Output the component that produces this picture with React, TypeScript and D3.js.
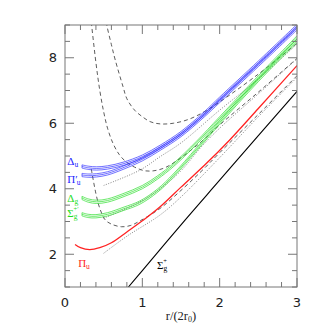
import React from 'react';
import * as d3 from 'd3';

type Pt = [number, number];

// lattice levels (centre of each band), r/(2r0) vs energy
const sigmaG: Pt[] = [[0.82, 1.0], [1.0, 1.5], [1.5, 2.9], [2.0, 4.26], [2.5, 5.62], [3.0, 6.97]];
const piU: Pt[] = [[0.13, 2.3], [0.2, 2.2], [0.32, 2.14], [0.45, 2.2], [0.6, 2.35], [0.8, 2.68], [1.0, 3.02], [1.23, 3.45], [1.5, 4.05], [1.81, 4.73], [2.13, 5.49], [2.5, 6.45], [3.0, 7.76]];
const sigmaGPrime: Pt[] = [[0.22, 3.22], [0.3, 3.17], [0.4, 3.16], [0.55, 3.22], [0.75, 3.38], [0.97, 3.58], [1.2, 3.95], [1.4, 4.4], [1.7, 5.2], [2.0, 6.02], [2.5, 7.32], [3.0, 8.52]];
const deltaG: Pt[] = [[0.22, 3.72], [0.3, 3.64], [0.41, 3.6], [0.55, 3.64], [0.75, 3.8], [1.0, 4.05], [1.2, 4.35], [1.4, 4.72], [1.7, 5.4], [2.0, 6.15], [2.5, 7.4], [3.0, 8.62]];
const piUPrime: Pt[] = [[0.22, 4.42], [0.3, 4.4], [0.41, 4.41], [0.55, 4.47], [0.75, 4.64], [1.0, 4.9], [1.23, 5.22], [1.5, 5.64], [1.8, 6.24], [2.0, 6.68], [2.5, 7.78], [3.0, 8.9]];
const deltaU: Pt[] = [[0.22, 4.68], [0.3, 4.64], [0.41, 4.62], [0.55, 4.65], [0.75, 4.76], [1.0, 4.98], [1.23, 5.28], [1.5, 5.7], [1.8, 6.3], [2.0, 6.75], [2.5, 7.85], [3.0, 8.97]];
const bandOffsets = [-0.05, 0, 0.05];

// string model curves
const dashed1: Pt[] = [[0.34, 4.6], [0.4, 3.85], [0.45, 3.4], [0.52, 3.05], [0.6, 2.92], [0.73, 2.84], [0.85, 2.88], [0.97, 3.02], [1.23, 3.4], [1.5, 3.95], [1.77, 4.55], [2.0, 5.1], [2.5, 6.27], [3.0, 7.45]];
const dashed2: Pt[] = [[0.33, 9.3], [0.4, 7.85], [0.45, 7.0], [0.5, 6.35], [0.55, 5.85], [0.62, 5.39], [0.7, 5.05], [0.8, 4.8], [0.9, 4.66], [1.03, 4.55], [1.15, 4.55], [1.3, 4.65], [1.5, 4.95], [1.77, 5.45], [2.0, 5.95], [2.5, 6.95], [3.0, 7.98]];
const dashed3: Pt[] = [[0.52, 9.3], [0.54, 9.0], [0.6, 8.4], [0.65, 7.93], [0.75, 7.12], [0.8, 6.75], [0.9, 6.4], [1.0, 6.2], [1.1, 6.05], [1.23, 5.98], [1.4, 6.0], [1.6, 6.12], [1.8, 6.35], [2.0, 6.65], [2.5, 7.5], [3.0, 8.44]];
const dotted1: Pt[] = [[0.5, 2.03], [0.8, 2.55], [1.23, 3.2], [1.5, 3.75], [2.0, 4.95], [2.5, 6.2], [3.0, 7.4]];
const dotted2: Pt[] = [[0.5, 3.1], [0.7, 3.3], [0.97, 3.6], [1.23, 4.0], [1.5, 4.55], [1.77, 5.3], [2.0, 5.85], [2.5, 6.9], [3.0, 7.97]];
const dotted3: Pt[] = [[0.5, 4.1], [0.97, 4.57], [1.23, 4.98], [1.5, 5.4], [2.0, 6.4], [2.5, 7.35], [3.0, 8.42]];

const xTicks = [0, 1, 2, 3];
const yTicks = [2, 4, 6, 8];

const W = 327, H = 327;
const margin = { left: 65, right: 30, top: 25, bottom: 40 };

export default function App() {
  const x = d3.scaleLinear().domain([0, 3]).range([margin.left, W - margin.right]);
  const y = d3.scaleLinear().domain([1, 9]).range([H - margin.bottom, margin.top]);
  const x0 = x.range()[0], x1 = x.range()[1];
  const yb = y.range()[0], yt = y.range()[1];

  const lineOff = (off: number) =>
    d3.line<Pt>().x(d => x(d[0])).y(d => y(d[1] + off)).curve(d3.curveCatmullRom);
  const line = lineOff(0);

  const band = (data: Pt[], color: string, key: string) => (
    <g key={key} stroke={color} fill="none" strokeWidth={0.65}>
      {bandOffsets.map((o, i) => <path key={i} d={lineOff(o)(data) || ''} />)}
      <line x1={x(data[0][0])} x2={x(data[0][0])}
        y1={y(data[0][1] + bandOffsets[0])} y2={y(data[0][1] + bandOffsets[bandOffsets.length - 1])} />
    </g>
  );

  const xMinor = d3.range(0, 3.001, 0.2);
  const yMinor = d3.range(1, 9.001, 0.5);

  const axisColor = '#777';
  const blue = '#2222ff', green = '#1edc1e', red = '#ff2222';

  return (
    <svg width={W} height={H} style={{ position: 'absolute', left: 0, top: 0, background: '#fff' }}>
      <defs>
        <clipPath id="plot">
          <rect x={x0} y={yt} width={x1 - x0} height={yb - yt} />
        </clipPath>
      </defs>

      <g clipPath="url(#plot)">
        {[dashed1, dashed2, dashed3].map((d, i) => (
          <path key={'d' + i} d={line(d) || ''} fill="none" stroke="#333" strokeWidth={0.8} strokeDasharray="4 3" />
        ))}
        {[dotted1, dotted2, dotted3].map((d, i) => (
          <path key={'o' + i} d={line(d) || ''} fill="none" stroke="#666" strokeWidth={0.8} strokeDasharray="1 1.5" />
        ))}
        <path d={line(sigmaG) || ''} fill="none" stroke="#000" strokeWidth={1.1} />
        <path d={line(piU) || ''} fill="none" stroke={red} strokeWidth={1.3} />
        {band(sigmaGPrime, green, 'sgp')}
        {band(deltaG, green, 'dg')}
        {band(piUPrime, blue, 'pup')}
        {band(deltaU, blue, 'du')}
      </g>

      {/* frame and ticks */}
      <rect x={x0} y={yt} width={x1 - x0} height={yb - yt} fill="none" stroke={axisColor} strokeWidth={1} />
      {xMinor.map((t, i) => {
        const major = Math.abs(t - Math.round(t)) < 1e-6;
        const len = major ? 9 : 5;
        return (
          <g key={'xt' + i} stroke={axisColor} strokeWidth={1}>
            <line x1={x(t)} x2={x(t)} y1={yb} y2={yb - len} />
            <line x1={x(t)} x2={x(t)} y1={yt} y2={yt + len} />
          </g>
        );
      })}
      {yMinor.map((t, i) => {
        const major = yTicks.includes(t);
        const len = major ? 9 : 5;
        return (
          <g key={'yt' + i} stroke={axisColor} strokeWidth={1}>
            <line x1={x0} x2={x0 + len} y1={y(t)} y2={y(t)} />
            <line x1={x1} x2={x1 - len} y1={y(t)} y2={y(t)} />
          </g>
        );
      })}
      {xTicks.map(t => (
        <text key={'xl' + t} x={x(t)} y={yb + 20} textAnchor="middle" fontSize={13}
          fontFamily="DejaVu Sans, sans-serif" fill="#222">{t}</text>
      ))}
      {yTicks.map(t => (
        <text key={'yl' + t} x={x0 - 8} y={y(t)} dy="0.36em" textAnchor="end" fontSize={13}
          fontFamily="DejaVu Sans, sans-serif" fill="#222">{t}</text>
      ))}
      <text x={(x0 + x1) / 2} y={yb + 33} textAnchor="middle" fontSize={12.5}
        fontFamily="Liberation Serif, serif" fill="#222">
        r/(2r<tspan fontSize={8} dy={2}>0</tspan><tspan dy={-2}>)</tspan>
      </text>

      {/* level labels */}
      <g fontFamily="Liberation Serif, serif" fontSize={11}>
        <text x={x(0.03)} y={y(4.84)} dy="0.35em" fill={blue}>Δ<tspan fontSize={7.5} dy={2}>u</tspan></text>
        <text x={x(0.03)} y={y(4.3)} dy="0.35em" fill={blue}>Π′<tspan fontSize={7.5} dx={-1} dy={2}>u</tspan></text>
        <text x={x(0.03)} y={y(3.72)} dy="0.35em" fill={green}>Δ<tspan fontSize={7.5} dy={2}>g</tspan></text>
        <text x={x(0.03)} y={y(3.24)} dy="0.35em" fill={green}>Σ<tspan fontSize={7.5} dy={2}>g</tspan><tspan fontSize={6.5} dx={-4} dy={-8}>+′</tspan></text>
        <text x={x(0.17)} y={y(1.73)} dy="0.35em" fill={red}>Π<tspan fontSize={7.5} dy={2}>u</tspan></text>
        <text x={x(1.19)} y={y(1.67)} dy="0.35em" fill="#000">Σ<tspan fontSize={7.5} dy={2}>g</tspan><tspan fontSize={6.5} dx={-4} dy={-8}>+</tspan></text>
      </g>
    </svg>
  );
}
